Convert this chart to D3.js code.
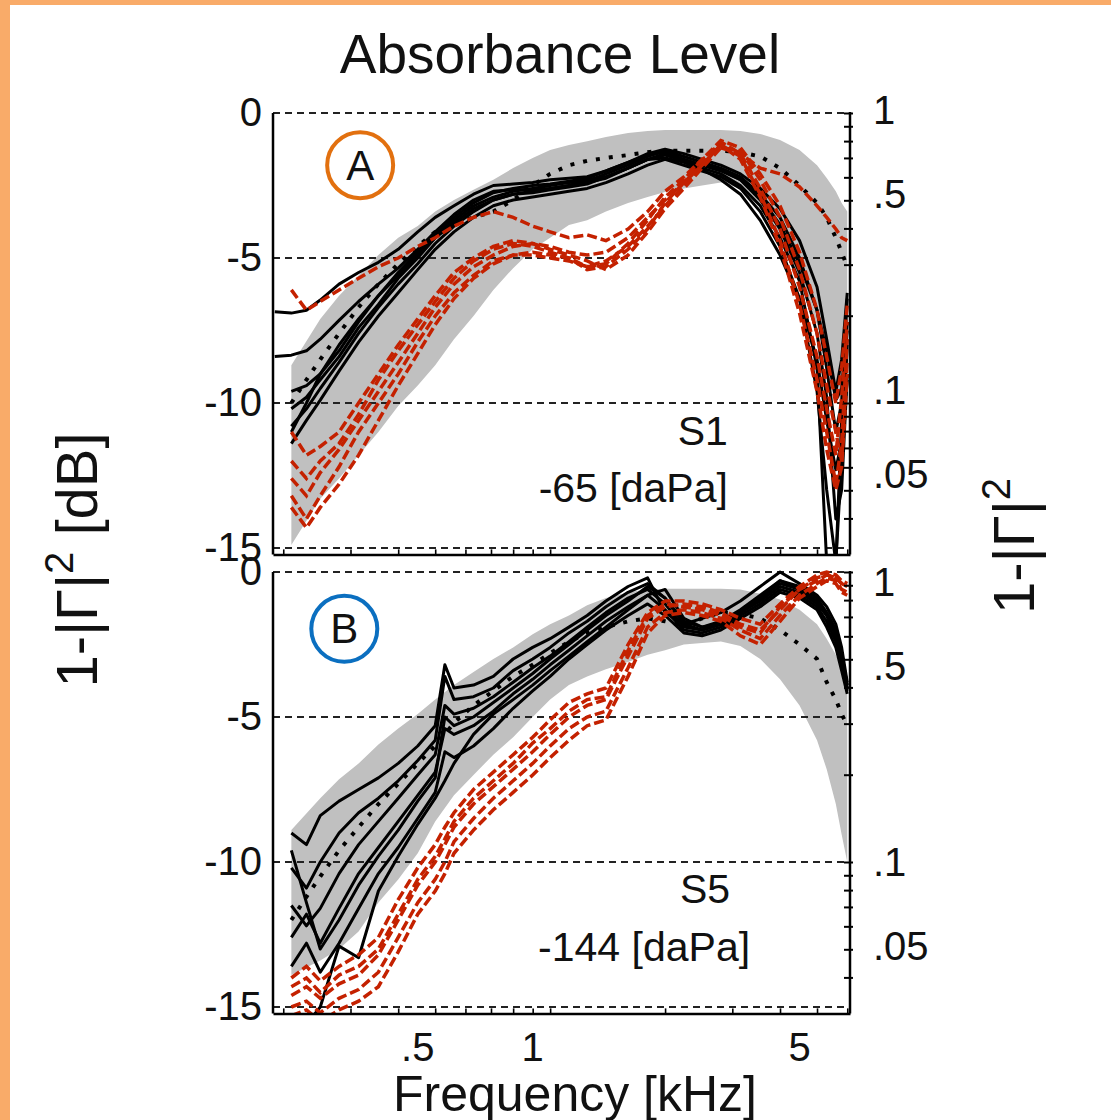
<!DOCTYPE html>
<html>
<head>
<meta charset="utf-8">
<script src="https://cdn.jsdelivr.net/npm/d3@7"></script>
<style>
  body { margin: 0; background: #fff; }
  svg { display: block; }
  text { font-family: "Liberation Sans", Arial, Helvetica, sans-serif; fill: #111; }
</style>
</head>
<body>
<div id="chart"></div>
<script>
// absorbance level, two ears/pressures (S1 -65 daPa, S5 -144 daPa)
// black = reference runs, red dashed = pressurized runs, gray = normative band

// frequency grids (kHz)
const freqA = [0.19, 0.21, 0.23, 0.25, 0.28, 0.315, 0.355, 0.4, 0.45, 0.5, 0.56, 0.63, 0.71, 0.8, 0.9,
               1.0, 1.12, 1.25, 1.4, 1.6, 1.8, 2.0, 2.24, 2.5, 2.8, 3.15, 3.55, 4.0, 4.5, 5.0, 5.3, 5.6, 5.8, 6.0];
const freqB = [0.19, 0.21, 0.23, 0.25, 0.28, 0.315, 0.355, 0.4, 0.45, 0.5, 0.53, 0.56, 0.63, 0.71, 0.8, 0.9,
               1.0, 1.12, 1.25, 1.4, 1.6, 1.8, 2.0, 2.24, 2.5, 2.8, 3.15, 3.55, 4.0, 4.5, 5.0, 5.3, 5.6, 5.8, 6.0];
const bandFreq = [0.21, 0.25, 0.28, 0.315, 0.355, 0.4, 0.45, 0.5, 0.56, 0.63, 0.71, 0.8, 0.9, 1.0, 1.12, 1.25,
                  1.4, 1.6, 1.8, 2.0, 2.24, 2.5, 2.8, 3.15, 3.55, 4.0, 4.5, 5.0, 5.3, 5.6, 5.8, 6.0];

// gray normative band (dB)
const bandUpperA = [-8.7, -7.1, -6.3, -5.6, -4.9, -4.3, -3.9, -3.4, -3.0, -2.65, -2.3, -1.9, -1.55, -1.28, -1.1, -0.97,
                    -0.83, -0.69, -0.62, -0.59, -0.59, -0.59, -0.59, -0.62, -0.72, -0.93, -1.28, -1.8, -2.24, -2.7, -3.1, -3.4];
const bandLowerA = [-14.9, -13.3, -12.6, -11.8, -11.0, -10.1, -9.4, -8.7, -7.8, -7.0, -6.1, -5.35, -4.7, -4.3, -3.86, -3.7,
                    -3.4, -3.1, -2.9, -2.72, -2.6, -2.5, -2.4, -2.6, -3.2, -4.4, -5.8, -7.3, -8.3, -9.4, -10.1, -10.6];
const bandUpperB = [-8.9, -7.8, -7.15, -6.6, -5.95, -5.4, -4.9, -4.4, -3.9, -3.45, -3.0, -2.6, -2.15, -1.8, -1.5, -1.15,
                    -0.9, -0.7, -0.6, -0.58, -0.58, -0.58, -0.58, -0.6, -0.75, -0.95, -1.3, -1.8, -2.3, -2.85, -3.3, -3.7];
const bandLowerB = [-13.9, -13.4, -13.0, -12.4, -11.4, -10.6, -9.7, -8.6, -7.7, -7.0, -6.3, -5.7, -5.0, -4.4, -3.9, -3.6,
                    -3.35, -3.1, -2.85, -2.7, -2.5, -2.45, -2.4, -2.55, -3.0, -3.7, -4.6, -5.8, -6.8, -8.0, -9.05, -10.0];

// panel A, S1
const blackA = [
  [-6.85, -6.9, -6.8, -6.45, -5.9, -5.5, -5.15, -4.7, -4.1, -3.6, -3.2, -2.8, -2.5, -2.45, -2.4, -2.3, -2.25, -2.2, -2.0, -1.7, -1.45, -1.35, -1.6, -1.8, -1.95, -2.3, -2.9, -3.85, -5.2, -6.8, -8.2, -9.9, -9.5, -7.5],
  [-8.4, -8.35, -8.2, -7.8, -7.15, -6.5, -5.9, -5.35, -4.7, -4.1, -3.5, -3.0, -2.7, -2.65, -2.65, -2.6, -2.5, -2.4, -2.25, -1.9, -1.6, -1.55, -1.7, -1.95, -2.3, -2.8, -3.7, -4.9, -6.45, -8.5, -10.6, -12.3, -11.3, -9.2],
  [null, -11.4, -10.6, -9.9, -8.9, -7.9, -7.0, -6.2, -5.4, -4.7, -4.1, -3.6, -3.2, -3.0, -2.9, -2.8, -2.7, -2.6, -2.4, -2.1, -1.8, -1.6, -1.8, -2.0, -2.2, -2.6, -3.4, -4.6, -6.4, -9.6, -13.0, -15.5, -12.0, -8.0],
  [null, -10.8, -10.2, -9.5, -8.6, -7.6, -6.7, -5.9, -5.2, -4.5, -3.9, -3.4, -3.0, -2.8, -2.7, -2.6, -2.5, -2.3, -2.2, -1.9, -1.6, -1.4, -1.6, -1.8, -2.0, -2.3, -3.0, -4.0, -5.5, -7.6, -9.8, -14.0, -13.0, -9.0],
  [null, -10.2, -9.8, -9.2, -8.4, -7.4, -6.6, -5.7, -5.0, -4.3, -3.7, -3.2, -2.9, -2.7, -2.6, -2.5, -2.4, -2.35, -2.1, -1.8, -1.5, -1.3, -1.5, -1.7, -1.9, -2.2, -2.8, -3.6, -5.0, -6.8, -8.8, -11.0, -10.0, -6.4],
  [null, -9.6, -9.4, -9.0, -8.2, -7.2, -6.3, -5.5, -4.8, -4.2, -3.6, -3.1, -2.75, -2.6, -2.5, -2.45, -2.35, -2.25, -2.0, -1.7, -1.4, -1.25, -1.4, -1.6, -1.8, -2.1, -2.6, -3.3, -4.4, -6.0, -7.8, -9.6, -8.5, -6.2],
  [null, -11.0, -10.0, -9.0, -8.0, -7.1, -6.3, -5.6, -4.9, -4.3, -3.8, -3.3, -3.0, -2.8, -2.75, -2.65, -2.55, -2.45, -2.2, -1.9, -1.6, -1.45, -1.65, -1.9, -2.1, -2.5, -3.2, -4.3, -5.8, -8.8, -15.5, -15.6, -10.5, -7.2]
];
const dottedA = [null, -10.0, -9.2, -8.5, -7.6, -6.7, -5.9, -5.2, -4.6, -4.1, -3.8, -3.6, -3.4, -3.0, -2.5, -2.1, -1.8, -1.65, -1.55, -1.45, -1.35, -1.3, -1.3, -1.3, -1.3, -1.35, -1.5, -1.9, -2.5, -3.1, -3.6, -4.3, -4.8, -5.3];
const redA = [
  [null, -6.1, -6.8, -6.5, -6.1, -5.7, -5.3, -5.0, -4.6, -4.3, -3.9, -3.6, -3.4, -3.6, -3.9, -4.1, -4.3, -4.2, -4.4, -4.0, -3.4, -2.7, -2.2, -1.6, -1.2, -1.4, -1.9, -2.1, -2.55, -3.2, -3.6, -4.0, -4.3, -4.4],
  [null, -12.6, -13.2, -12.4, -11.6, -10.6, -9.6, -8.6, -7.6, -6.7, -5.9, -5.3, -4.9, -4.6, -4.5, -4.6, -4.8, -4.9, -4.8, -4.3, -3.6, -3.0, -2.4, -1.7, -1.0, -1.4, -2.6, -4.0, -6.0, -8.4, -10.2, -11.8, -9.8, -7.2],
  [null, -13.2, -14.0, -13.2, -12.2, -11.0, -10.0, -9.0, -7.9, -7.0, -6.2, -5.6, -5.1, -4.9, -4.9, -5.0, -5.1, -5.3, -5.1, -4.6, -3.9, -3.2, -2.5, -1.8, -1.1, -1.5, -2.8, -4.4, -6.6, -9.2, -11.0, -12.8, -11.4, -7.8],
  [null, -11.0, -11.8, -11.5, -11.0, -10.0, -9.0, -8.0, -7.1, -6.3, -5.5, -5.0, -4.6, -4.4, -4.5, -4.7, -4.9, -5.1, -5.4, -4.9, -4.1, -3.3, -2.6, -1.9, -1.2, -1.3, -2.3, -3.6, -5.4, -7.6, -9.4, -11.0, -12.0, -8.5],
  [null, -12.0, -12.6, -12.0, -11.4, -10.4, -9.2, -8.2, -7.3, -6.5, -5.7, -5.1, -4.7, -4.5, -4.6, -4.8, -5.0, -5.4, -5.3, -4.7, -4.0, -3.1, -2.4, -1.8, -1.1, -1.6, -2.9, -4.6, -6.9, -9.6, -11.6, -13.0, -12.2, -9.0],
  [null, -13.6, -14.3, -13.6, -12.8, -11.8, -10.6, -9.4, -8.3, -7.3, -6.4, -5.7, -5.2, -4.9, -4.8, -4.9, -5.0, -5.3, -5.2, -4.5, -3.7, -2.9, -2.3, -1.6, -0.95, -1.2, -2.1, -3.2, -4.8, -6.8, -8.4, -10.0, -8.8, -6.6]
];

// panel B, S5
const blackB = [
  [null, -9.0, -9.4, -8.4, -7.9, -7.5, -7.1, -6.6, -6.0, -5.3, -3.2, -4.0, -3.9, -3.6, -3.0, -2.6, -2.3, -1.9, -1.5, -1.0, -0.5, -0.2, -1.4, -1.8, -1.6, -1.4, -1.0, -0.5, 0.0, -0.4, -0.8, -1.2, -1.8, -2.6, -3.8],
  [null, -10.2, -10.9, -10.0, -9.0, -8.3, -7.8, -7.2, -6.5, -5.8, -3.6, -4.4, -4.3, -4.0, -3.4, -3.0, -2.6, -2.1, -1.7, -1.2, -0.7, -0.4, -0.9, -1.7, -1.9, -1.7, -1.3, -0.8, -0.3, -0.6, -1.0, -1.4, -2.0, -2.9, -3.9],
  [null, -11.5, -12.2, -11.6, -10.4, -9.4, -8.6, -7.8, -7.0, -6.3, -4.6, -4.9, -4.7, -4.3, -3.8, -3.3, -2.9, -2.4, -1.9, -1.4, -0.9, -0.6, -1.1, -1.9, -2.0, -1.8, -1.4, -1.0, -0.5, -0.7, -1.1, -1.5, -2.2, -3.0, -4.0],
  [null, -12.6, -11.8, -12.8, -11.6, -10.4, -9.5, -8.6, -7.7, -6.9, -5.4, -5.6, -5.3, -4.8, -4.2, -3.7, -3.2, -2.7, -2.2, -1.7, -1.2, -0.8, -1.3, -2.0, -2.1, -1.9, -1.5, -1.1, -0.6, -0.8, -1.2, -1.7, -2.4, -3.2, -4.1],
  [null, -13.6, -12.8, -13.8, -12.8, -11.6, -10.4, -9.5, -8.5, -7.6, -6.2, -6.4, -6.0, -5.4, -4.7, -4.1, -3.6, -3.0, -2.5, -2.0, -1.5, -1.1, -1.5, -2.1, -2.2, -2.0, -1.6, -1.2, -0.7, -0.9, -1.3, -1.9, -2.6, -3.4, -4.2],
  [null, null, -15.6, -15.0, -12.9, -13.3, -11.0, -9.8, -8.7, -7.8, -7.2, -6.6, -5.6, -4.9, -4.4, -3.9, -3.4, -2.9, -2.4, -1.9, -1.3, -0.8, -0.6, -1.6, -1.9, -1.8, -1.4, -0.9, -0.4, -0.6, -1.0, -1.5, -2.2, -3.1, -4.0],
  [null, -9.6, -11.4, -13.0, -12.0, -10.8, -9.8, -8.9, -7.9, -7.1, -5.0, -5.3, -5.0, -4.5, -4.0, -3.5, -3.0, -2.5, -2.0, -1.5, -1.0, -0.5, -0.9, -1.8, -2.0, -1.8, -1.4, -0.9, -0.3, -0.5, -0.9, -1.4, -2.0, -2.8, -3.9]
];
const dottedB = [null, -12.0, -11.2, -10.5, -9.6, -8.8, -8.0, -7.3, -6.6, -6.0, -5.6, -5.2, -4.6, -4.1, -3.6, -3.2, -2.8, -2.4, -2.1, -1.9, -1.7, -1.6, -1.7, -1.85, -1.6, -1.4, -1.45, -1.6, -2.0, -2.5, -3.0, -3.8, -4.4, -4.9, -5.3];
const redB = [
  [null, -14.0, -13.6, -14.1, -13.6, -13.2, -12.6, -11.3, -10.2, -9.4, -8.8, -8.3, -7.5, -6.9, -6.3, -5.7, -5.1, -4.5, -4.2, -4.0, -2.5, -1.4, -1.0, -1.0, -1.1, -1.3, -1.6, -1.8, -1.1, -0.5, -0.1, 0.0, -0.1, -0.3, -0.4],
  [null, -14.6, -14.3, -14.7, -14.2, -13.9, -13.2, -12.0, -10.8, -10.0, -9.4, -8.8, -8.0, -7.4, -6.8, -6.2, -5.6, -5.0, -4.6, -4.4, -2.9, -1.6, -1.2, -1.1, -1.2, -1.4, -1.8, -2.0, -1.3, -0.6, -0.2, -0.1, -0.2, -0.4, -0.5],
  [null, -15.0, -14.8, -15.2, -14.7, -14.4, -13.8, -12.6, -11.4, -10.6, -10.0, -9.3, -8.5, -7.8, -7.2, -6.6, -6.0, -5.4, -5.0, -4.8, -3.3, -1.9, -1.4, -1.3, -1.4, -1.6, -2.0, -2.3, -1.5, -0.8, -0.4, -0.2, -0.3, -0.6, -0.7],
  [null, -15.3, -15.1, -15.5, -15.1, -14.8, -14.3, -13.1, -11.8, -11.0, -10.4, -9.7, -8.9, -8.2, -7.6, -7.0, -6.4, -5.8, -5.3, -5.1, -3.6, -2.1, -1.5, -1.4, -1.5, -1.7, -2.2, -2.5, -1.7, -0.9, -0.5, -0.3, -0.4, -0.7, -0.8],
  [null, -14.3, -14.0, -14.5, -13.9, -13.6, -13.0, -11.8, -10.6, -9.8, -9.2, -8.6, -7.8, -7.2, -6.6, -5.9, -5.4, -4.8, -4.4, -4.3, -2.7, -1.5, -1.1, -1.2, -1.3, -1.5, -1.9, -2.1, -1.2, -0.6, -0.3, -0.1, -0.2, -0.4, -0.5]
];

// axes
const leftTicks = [0, -5, -10, -15];
const bottomTicks = [0.2, 0.3, 0.4, 0.5, 0.6, 0.7, 0.8, 0.9, 1, 2, 3, 4, 5, 6];
const bottomLabels = [0.5, 1, 5];
const rightTicks = [1, 0.9, 0.8, 0.7, 0.6, 0.5, 0.4, 0.3, 0.2, 0.1, 0.09, 0.08, 0.07, 0.06, 0.05, 0.04];
const rightLabels = [1, 0.5, 0.1, 0.05];

const W = 1111, H = 1120;
const left = 273, right = 850;
const fmt = d => String(d).replace(/^0\./, ".");
const toDb = v => 10 * Math.log10(v);

const svg = d3.select("#chart").append("svg")
    .attr("width", W)
    .attr("height", H);

svg.append("rect").attr("width", W).attr("height", H).attr("fill", "#fff");
// orange frame edges
svg.append("rect").attr("width", 10).attr("height", H).attr("fill", "#f9ab69");
svg.append("rect").attr("width", W).attr("height", 5).attr("fill", "#f9ab69");

const x = d3.scaleLog().domain([0.188, 6.1]).range([left, right]);

const panels = [
    { top: 113, freq: freqA, upper: bandUpperA, lower: bandLowerA, black: blackA, dotted: dottedA, red: redA,
      tag: "A", tagColor: "#e2700f", tagAt: [0.318, -1.8],
      notes: [["S1", 2.92, -11.45], ["-65 [daPa]", 2.92, -13.4]], labelShift: -3, xLabels: false },
    { top: 572, freq: freqB, upper: bandUpperB, lower: bandLowerB, black: blackB, dotted: dottedB, red: redB,
      tag: "B", tagColor: "#0b6fc0", tagAt: [0.289, -1.96],
      notes: [["S5", 2.96, -11.4], ["-144 [daPa]", 3.34, -13.4]], labelShift: 10, xLabels: true }
];

panels.forEach(function(p, i) {
    const y = d3.scaleLinear().domain([0, -15]).range([p.top, p.top + 435]);
    const yLab = d3.scaleLinear().domain([0, -15]).range([p.top + p.labelShift, p.top + p.labelShift + 420]);
    const yBottom = y(-15.22);

    svg.append("clipPath").attr("id", "clip" + i)
        .append("rect")
        .attr("x", left).attr("y", y(0.5))
        .attr("width", right - left).attr("height", yBottom - y(0.5));

    const g = svg.append("g");
    const plot = g.append("g").attr("clip-path", `url(#clip${i})`);

    // normative band
    const band = bandFreq.map((f, j) => ({ f: f, lo: p.lower[j], hi: p.upper[j] }));
    plot.append("path")
        .datum(band)
        .attr("fill", "#c0c0c0")
        .attr("d", d3.area().x(d => x(d.f)).y0(d => y(d.lo)).y1(d => y(d.hi)));

    // dashed grid
    plot.selectAll("line.grid")
        .data(leftTicks)
        .enter()
        .append("line")
        .attr("class", "grid")
        .attr("x1", left).attr("x2", right)
        .attr("y1", d => y(d)).attr("y2", d => y(d))
        .attr("stroke", "#222")
        .attr("stroke-width", 2)
        .attr("stroke-dasharray", "7,5");

    const line = d3.line()
        .defined(d => d.v !== null)
        .x(d => x(d.f))
        .y(d => y(d.v));
    const pts = s => p.freq.map((f, j) => ({ f: f, v: s[j] }));

    p.black.forEach(function(s) {
        plot.append("path").datum(pts(s))
            .attr("fill", "none").attr("stroke", "#000")
            .attr("stroke-width", 3).attr("stroke-linejoin", "round")
            .attr("d", line);
    });

    plot.append("path").datum(pts(p.dotted))
        .attr("fill", "none").attr("stroke", "#000")
        .attr("stroke-width", 4).attr("stroke-dasharray", "4,9")
        .attr("d", line);

    p.red.forEach(function(s) {
        plot.append("path").datum(pts(s))
            .attr("fill", "none").attr("stroke", "#c42100")
            .attr("stroke-width", 3.5).attr("stroke-dasharray", "10,4")
            .attr("d", line);
    });

    // left labels
    const axL = g.append("g")
        .attr("transform", `translate(${left},0)`)
        .call(d3.axisLeft(y).tickValues(leftTicks).tickSize(0).tickPadding(11).tickFormat(d => String(d)));
    axL.select(".domain").remove();
    axL.selectAll("text").attr("font-size", 40).attr("font-family", null);

    // bottom axis, ticks point inward
    const axB = g.append("g")
        .attr("transform", `translate(0,${yBottom})`)
        .call(d3.axisBottom(x).tickValues(bottomTicks).tickSizeInner(-5).tickSizeOuter(0).tickPadding(19)
              .tickFormat(d => p.xLabels && bottomLabels.includes(d) ? fmt(d) : ""));
    axB.select(".domain").attr("stroke-width", 2.5);
    axB.selectAll(".tick line").attr("stroke-width", 1.6);
    axB.selectAll("text").attr("font-size", 40).attr("font-family", null).attr("dx", -18);

    // right axis: 1-|G|^2 on a dB spacing
    const axR = g.append("g")
        .attr("transform", `translate(${right},0)`)
        .call(d3.axisRight(y).tickValues(rightTicks.map(toDb)).tickSizeInner(3).tickSizeOuter(0).tickFormat(""));
    axR.select(".domain").remove();
    axR.selectAll(".tick line").attr("x1", -6).attr("stroke-width", 2);

    g.selectAll("text.rlab")
        .data(rightLabels)
        .enter()
        .append("text")
        .attr("class", "rlab")
        .attr("x", 873)
        .attr("y", d => yLab(toDb(d)))
        .attr("dominant-baseline", "central")
        .attr("font-size", 40)
        .text(fmt);

    // frame: left + right solid, top is the dashed 0 dB line
    g.append("line").attr("x1", left).attr("x2", left).attr("y1", y(0)).attr("y2", yBottom)
        .attr("stroke", "#000").attr("stroke-width", 2.5);
    g.append("line").attr("x1", right).attr("x2", right).attr("y1", y(0) - 1).attr("y2", yBottom)
        .attr("stroke", "#000").attr("stroke-width", 2.5);

    // circled panel tag
    g.append("circle")
        .attr("cx", x(p.tagAt[0])).attr("cy", y(p.tagAt[1])).attr("r", 33)
        .attr("fill", "none").attr("stroke", p.tagColor).attr("stroke-width", 4);
    g.append("text")
        .attr("x", x(p.tagAt[0])).attr("y", y(p.tagAt[1]))
        .attr("text-anchor", "middle").attr("dominant-baseline", "central")
        .attr("font-size", 42)
        .text(p.tag);

    p.notes.forEach(function(n) {
        g.append("text")
            .attr("x", x(n[1])).attr("y", y(n[2]))
            .attr("text-anchor", "end")
            .attr("font-size", 41)
            .text(n[0]);
    });
});

// title and axis titles
svg.append("text")
    .attr("x", 560).attr("y", 73)
    .attr("text-anchor", "middle")
    .attr("font-size", 55)
    .text("Absorbance Level");

svg.append("text")
    .attr("x", 575).attr("y", 1111)
    .attr("text-anchor", "middle")
    .attr("font-size", 50)
    .text("Frequency [kHz]");

const yTitle = svg.append("text")
    .attr("transform", "translate(97,560) rotate(-90)")
    .attr("text-anchor", "middle")
    .attr("font-size", 58);
yTitle.append("tspan").text("1-|Γ|");
yTitle.append("tspan").attr("font-size", 40).attr("dy", -24).text("2");
yTitle.append("tspan").attr("dy", 24).text(" [dB]");

const y2Title = svg.append("text")
    .attr("transform", "translate(1034,546) rotate(-90)")
    .attr("text-anchor", "middle")
    .attr("font-size", 58);
y2Title.append("tspan").text("1-|Γ|");
y2Title.append("tspan").attr("font-size", 40).attr("dy", -24).text("2");
</script>
</body>
</html>
